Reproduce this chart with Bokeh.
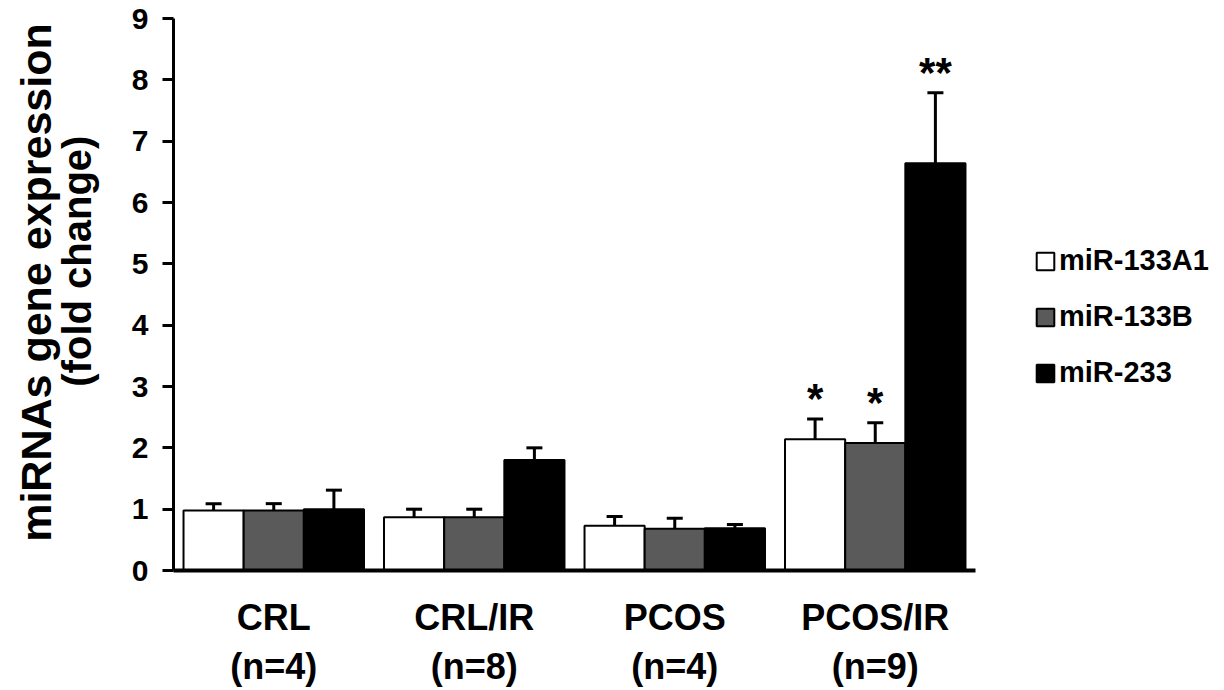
from bokeh.plotting import figure
from bokeh.models import (ColumnDataSource, Whisker, TeeHead, Legend,
                          LegendItem, Range1d, FixedTicker, LinearAxis)
from bokeh.core.properties import value
from bokeh.embed import file_html
from bokeh.resources import INLINE

# ---------------- data ----------------
groups = ["CRL", "CRL/IR", "PCOS", "PCOS/IR"]
n_sizes = [4, 8, 4, 9]
series_names = ["miR-133A1", "miR-133B", "miR-233"]
mir133a1 = [0.98, 0.87, 0.73, 2.14]
mir133a1_err = [0.11, 0.13, 0.15, 0.33]
mir133b = [0.98, 0.87, 0.68, 2.08]
mir133b_err = [0.11, 0.13, 0.17, 0.33]
mir233 = [1.00, 1.80, 0.69, 6.64]
mir233_err = [0.31, 0.20, 0.06, 1.15]
sig133a1 = ["", "", "", "*"]
sig133b = ["", "", "", "*"]
sig233 = ["", "", "", "**"]
y_ticks = [0, 1, 2, 3, 4, 5, 6, 7, 8, 9]
y_title_1 = "miRNAs gene expression"
y_title_2 = "(fold change)"

FONT = "Liberation Sans"
fills = ["#ffffff", "#5a5a5a", "#000000"]
offsets = [-0.3, 0.0, 0.3]
bar_w = 0.3

p = figure(frame_width=802, frame_height=552, output_backend="svg",
           toolbar_location=None,
           x_range=Range1d(-0.5, len(groups) - 0.5), y_range=Range1d(0, 9),
           min_border_left=173, min_border_right=0, min_border_top=18,
           min_border_bottom=0)
p.outline_line_color = None
p.grid.grid_line_color = None
p.background_fill_color = "white"
p.border_fill_color = "white"

# x axis: group labels with sample sizes
p.xaxis.ticker = FixedTicker(ticks=list(range(len(groups))))
p.xaxis.major_label_overrides = {i: "%s\n(n=%d)" % (g, n)
                                 for i, (g, n) in enumerate(zip(groups, n_sizes))}
p.xaxis.major_label_text_font = FONT
p.xaxis.major_label_text_font_style = "bold"
p.xaxis.major_label_text_font_size = "36px"
p.xaxis.major_label_text_color = "black"
p.xaxis.major_label_standoff = 26
p.xaxis.axis_line_width = 4
p.xaxis.major_tick_line_color = None
p.xaxis.major_tick_out = 0
p.xaxis.minor_tick_line_color = None

# y axis
p.yaxis.ticker = FixedTicker(ticks=y_ticks)
p.yaxis.axis_line_width = 3
p.yaxis.major_tick_line_width = 3
p.yaxis.major_tick_out = 11
p.yaxis.major_tick_in = 0
p.yaxis.minor_tick_line_color = None
p.yaxis.major_label_standoff = 14
p.yaxis.major_label_text_font = FONT
p.yaxis.major_label_text_font_style = "bold"
p.yaxis.major_label_text_font_size = "30px"
p.yaxis.major_label_text_color = "black"
p.yaxis.axis_label = "\u00a0" * 6 + y_title_2
p.yaxis.axis_label_text_font = FONT
p.yaxis.axis_label_text_font_style = "bold"
p.yaxis.axis_label_text_font_size = "40px"
p.yaxis.axis_label_text_color = "black"
p.yaxis.axis_label_standoff = 30

outer = LinearAxis(axis_label="\u00a0" * 2 + y_title_1, ticker=FixedTicker(ticks=[]),
                   axis_line_color=None, major_tick_line_color=None,
                   minor_tick_line_color=None, major_label_text_font_size="0px",
                   major_tick_out=0, major_tick_in=0, major_label_standoff=0,
                   axis_label_standoff=-8, axis_label_text_font=FONT,
                   axis_label_text_font_style="bold",
                   axis_label_text_font_size="43px",
                   axis_label_text_color="black")
p.add_layout(outer, "left")

all_vals = [mir133a1, mir133b, mir233]
all_errs = [mir133a1_err, mir133b_err, mir233_err]
all_sigs = [sig133a1, sig133b, sig233]
renderers = []
for k in range(3):
    xs = [i + offsets[k] for i in range(len(groups))]
    vals = all_vals[k]
    errs = all_errs[k]
    src = ColumnDataSource(dict(
        x=xs, top=vals,
        upper=[v + e for v, e in zip(vals, errs)],
        lower=[v - e for v, e in zip(vals, errs)],
        sig=all_sigs[k],
        sy=[v + e + 0.33 for v, e in zip(vals, errs)],
    ))
    r = p.vbar(x="x", top="top", bottom=0, width=bar_w, source=src,
               fill_color=fills[k], line_color="black", line_width=2)
    renderers.append(r)
    w = Whisker(base="x", upper="upper", lower="lower", source=src,
                line_width=3, line_color="black",
                upper_head=TeeHead(size=16, line_width=3, line_color="black"),
                lower_head=TeeHead(size=16, line_width=3, line_color="black"))
    p.add_layout(w)
    p.text(x="x", y="sy", text="sig", source=src, text_align="center",
           text_baseline="alphabetic", text_font=value(FONT),
           text_font_style="bold", text_font_size="42px", text_color="black")

legend = Legend(items=[LegendItem(label=series_names[k], renderers=[renderers[k]])
                       for k in range(3)],
                location=(59, 181), orientation="vertical")
legend.glyph_width = 22
legend.glyph_height = 22
legend.label_height = 22
legend.label_standoff = 3
legend.spacing = 23
legend.padding = 0
legend.margin = 0
legend.border_line_color = None
legend.background_fill_alpha = 0
legend.label_text_font = FONT
legend.label_text_font_style = "bold"
legend.label_text_font_size = "29px"
legend.label_text_color = "black"
p.add_layout(legend, "right")

open("out.html", "w").write(file_html(p, INLINE))
